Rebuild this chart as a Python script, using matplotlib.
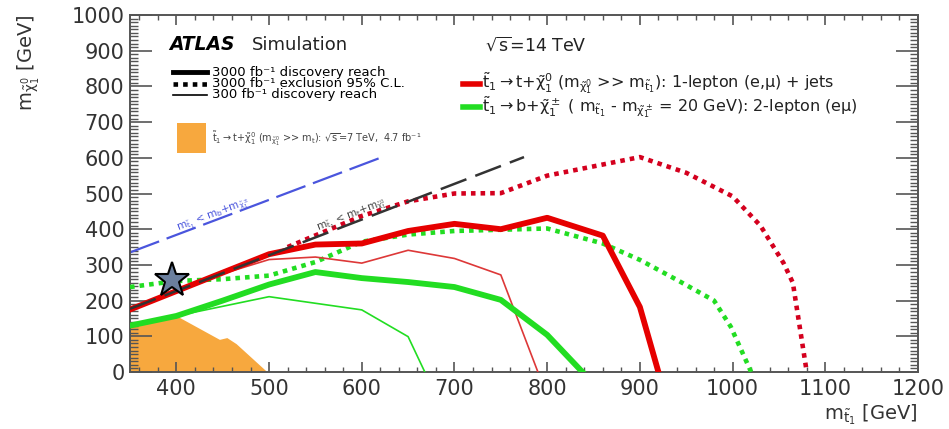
import numpy as np
import matplotlib
matplotlib.use("Agg")
import matplotlib.pyplot as plt
from matplotlib.patches import Rectangle

plt.rcParams['font.family'] = ['DejaVu Sans']
plt.rcParams['mathtext.default'] = 'regular'

# 1-lepton channel (red)
red_disc_x = [350, 500, 550, 600, 650, 700, 750, 800, 860, 900, 920]
red_disc_y = [175, 330, 357, 360, 395, 415, 400, 432, 382, 182, 0]
red_300_x = [350, 450, 500, 550, 600, 650, 700, 750, 790]
red_300_y = [175, 275, 315, 322, 305, 341, 318, 272, 0]
red_excl_x = [520, 600, 650, 700, 750, 800, 900, 950, 1000, 1030, 1055, 1065, 1080]
red_excl_y = [350, 437, 478, 500, 501, 550, 602, 558, 492, 410, 305, 250, 0]

# 2-lepton channel (green)
green_disc_x = [350, 400, 450, 500, 550, 600, 650, 700, 750, 800, 838]
green_disc_y = [130, 157, 200, 245, 280, 263, 252, 238, 202, 104, 0]
green_300_x = [400, 500, 600, 650, 668]
green_300_y = [157, 211, 174, 99, 0]
green_excl_x = [350, 400, 450, 500, 550, 600, 650, 700, 800, 860, 900, 940, 980, 998, 1020]
green_excl_y = [238, 255, 260, 270, 308, 365, 385, 395, 402, 360, 314, 258, 200, 127, 0]

# 7 TeV 4.7 fb-1 excluded region
orange_x = [350, 350, 400, 447, 455, 465, 498]
orange_y = [0, 131, 157, 90, 95, 78, 0]

# kinematic limits
blue_kin_x = [350, 620]
blue_kin_y = [335, 600]
black_kin_x = [350, 775]
black_kin_y = [177, 602]

star_x = [395]
star_y = [258]

red = '#e60000'
red_dot = '#d4001e'
red_thin = '#dd3838'
green = '#22dd22'
orange = '#f7a83e'

fig = plt.figure(figsize=(9.49, 4.29), dpi=100)
ax = fig.add_axes([130 / 949, 57 / 429, 788 / 949, 357 / 429])

ax.fill(orange_x, orange_y, color=orange, lw=0, zorder=1)

ax.plot(blue_kin_x, blue_kin_y, color='#4a55dd', lw=1.6, dashes=(14, 3.6), zorder=2)

ax.plot(green_excl_x, green_excl_y, color=green, lw=3.3, dashes=(1, 1.1),
        dash_capstyle='butt', zorder=3)
ax.plot(red_excl_x, red_excl_y, color=red_dot, lw=3.3, dashes=(1, 1.1),
        dash_capstyle='butt', zorder=3)
ax.plot(green_300_x, green_300_y, color=green, lw=1.2, zorder=3)
ax.plot(red_300_x, red_300_y, color=red_thin, lw=1.2, zorder=3)
ax.plot(green_disc_x, green_disc_y, color=green, lw=4.2, zorder=4)
ax.plot(red_disc_x, red_disc_y, color=red, lw=4.2, zorder=4)

ax.plot(black_kin_x, black_kin_y, color='#333333', lw=1.8, dashes=(11, 3.8), zorder=5)

ax.plot(star_x, star_y, marker='*', ms=26, mfc='#6b7f9e', mec='black', mew=1.5,
        ls='none', zorder=6)

ax.text(440, 438, r'm$_{\tilde{t}_1}$ < m$_b$+m$_{\tilde{\chi}^\pm_1}$', color='#4a55dd',
        fontsize=7.5, rotation=20.6, ha='center', va='center', zorder=6)
ax.text(589, 437, r'm$_{\tilde{t}_1}$ < m$_t$+m$_{\tilde{\chi}^0_1}$', color='#444444',
        fontsize=7.5, rotation=21, ha='center', va='center', zorder=6)

ax.set_xlim(350, 1200)
ax.set_ylim(0, 1000)
ax.set_xticks(np.arange(400, 1201, 100))
ax.set_yticks(np.arange(0, 1001, 100))
ax.set_xticks(np.arange(360, 1200, 20), minor=True)
ax.set_yticks(np.arange(0, 1000, 10), minor=True)

ax.tick_params(axis='both', which='both', direction='in', top=True, right=True,
               colors='#555555', labelcolor='#333333', labelsize=15)
ax.tick_params(axis='x', which='major', length=7, width=1.2, pad=5)
ax.tick_params(axis='x', which='minor', length=3.5, width=1.0)
ax.tick_params(axis='y', which='major', length=16, width=1.2, pad=4)
ax.tick_params(axis='y', which='minor', length=6, width=1.0)
for s in ax.spines.values():
    s.set_color('#555555')
    s.set_linewidth(1.4)

ax.set_xlabel(r'm$_{\tilde{t}_1}$ [GeV]', fontsize=14, color='#333333', ha='right')
ax.xaxis.set_label_coords(1.0, -0.085)
ax.set_ylabel(r'm$_{\tilde{\chi}^0_1}$ [GeV]', fontsize=14, color='#333333', ha='right')
ax.yaxis.set_label_coords(-0.112, 1.0)

# left legend block
T = ax.transAxes
ax.text(0.050, 0.916, 'ATLAS', transform=T, fontsize=13.5, fontweight='bold',
        style='italic', va='center')
ax.text(0.155, 0.916, 'Simulation', transform=T, fontsize=13, va='center', color='#222222')
ax.plot([0.055, 0.098], [0.840, 0.840], transform=T, color='black', lw=3.5)
ax.plot([0.055, 0.098], [0.808, 0.808], transform=T, color='black', lw=3.3,
        dashes=(1, 1.1), dash_capstyle='butt')
ax.plot([0.055, 0.098], [0.776, 0.776], transform=T, color='black', lw=1.2)
ax.text(0.104, 0.840, '3000 fb⁻¹ discovery reach', transform=T, fontsize=9.5, va='center')
ax.text(0.104, 0.808, '3000 fb⁻¹ exclusion 95% C.L.', transform=T, fontsize=9.5, va='center')
ax.text(0.104, 0.776, '300 fb⁻¹ discovery reach', transform=T, fontsize=9.5, va='center')
ax.add_patch(Rectangle((0.060, 0.613), 0.036, 0.084, transform=T, color=orange, lw=0))
ax.text(0.104, 0.655, r'$\tilde{t}_1 \rightarrow t{+}\tilde{\chi}^0_1$ (m$_{\tilde{\chi}^0_1}$ >> m$_t$): '
        r'$\sqrt{s}$=7 TeV,  4.7 fb⁻¹', transform=T, fontsize=7, va='center',
        color='#444444')

# right legend block
ax.text(0.450, 0.916, r'$\sqrt{s}$=14 TeV', transform=T, fontsize=12.5, va='center',
        color='#222222')
ax.plot([0.423, 0.444], [0.808, 0.808], transform=T, color=red, lw=4)
ax.plot([0.423, 0.444], [0.741, 0.741], transform=T, color=green, lw=4)
ax.text(0.447, 0.808, r'$\tilde{t}_1 \rightarrow t{+}\tilde{\chi}^0_1$ (m$_{\tilde{\chi}^0_1}$ >> '
        r'm$_{\tilde{t}_1}$): 1-lepton (e,$\mu$) + jets', transform=T, fontsize=11.5,
        va='center', color='#222222')
ax.text(0.447, 0.741, r'$\tilde{t}_1 \rightarrow b{+}\tilde{\chi}^\pm_1$ ( m$_{\tilde{t}_1}$ - '
        r'm$_{\tilde{\chi}^\pm_1}$ = 20 GeV): 2-lepton (e$\mu$)', transform=T, fontsize=11.5,
        va='center', color='#222222')

fig.savefig('out.png', dpi=100)
